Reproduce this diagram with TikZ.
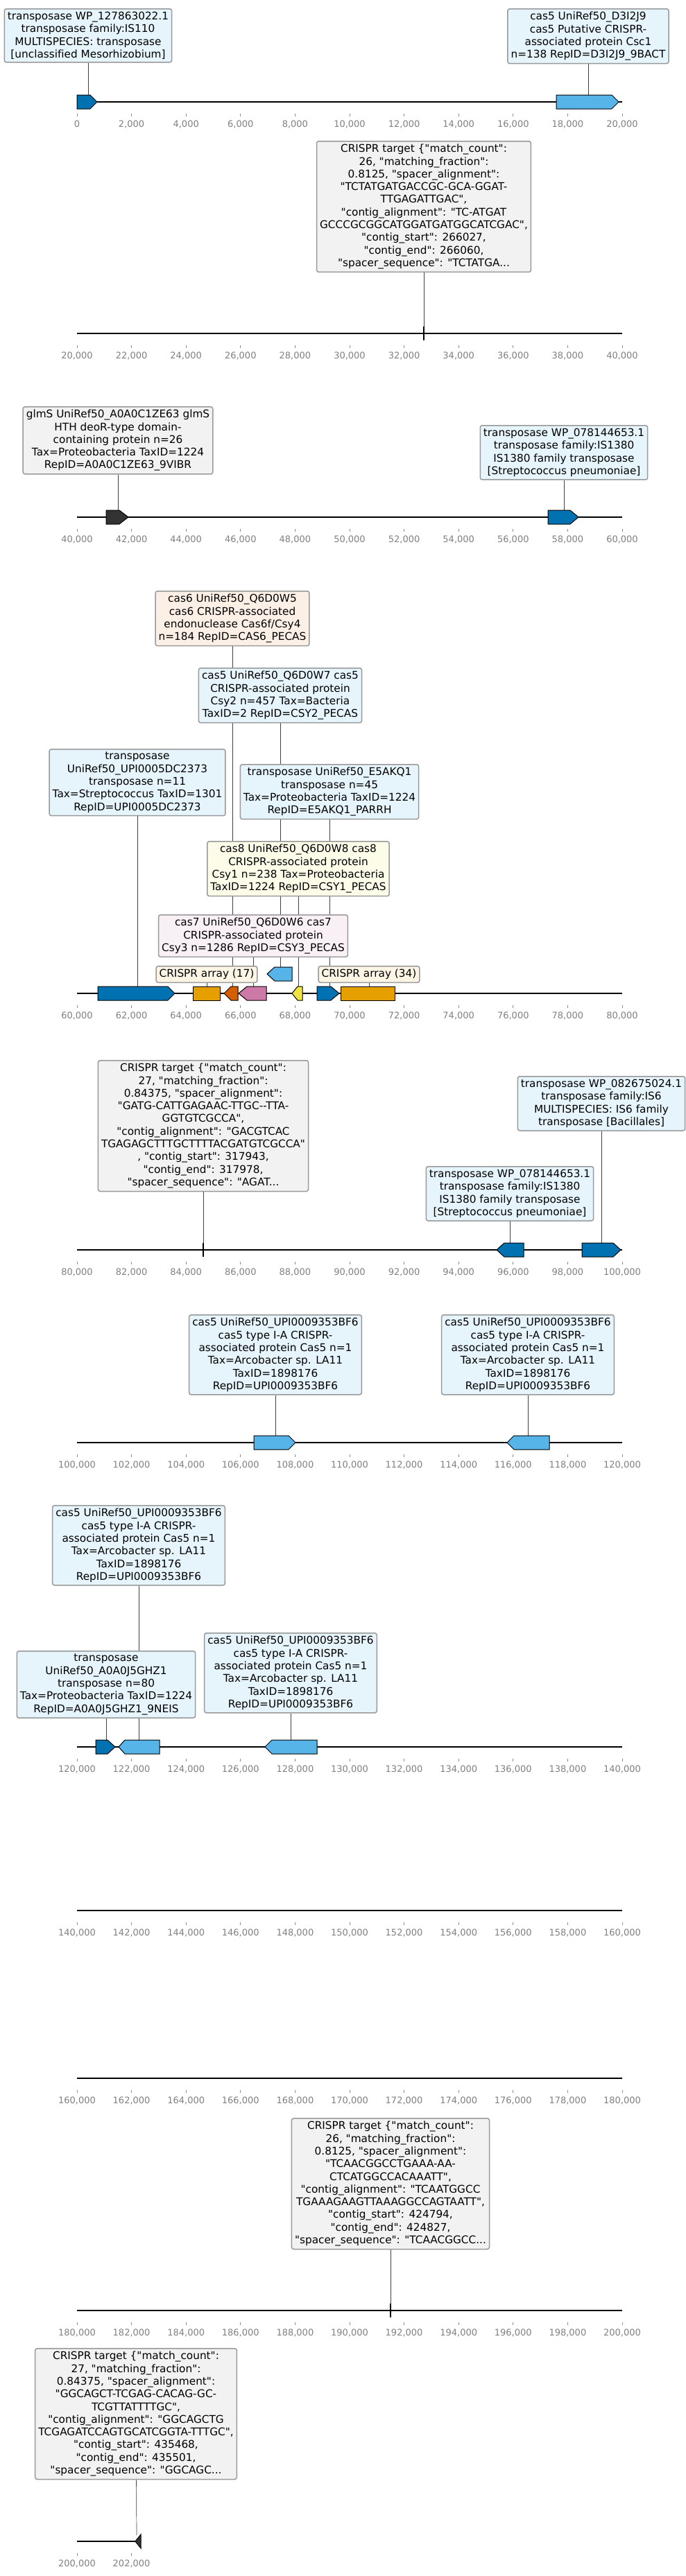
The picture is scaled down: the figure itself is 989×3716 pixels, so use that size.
\documentclass[tikz,border=0pt]{standalone}
\usepackage{fontspec}
\setmainfont{DejaVu Sans}[Ligatures={TeXOff,NoCommon}]
\usetikzlibrary{backgrounds}
\definecolor{dblue}{HTML}{0072B2}
\definecolor{lblue}{HTML}{56B4E9}
\definecolor{orng}{HTML}{E69F00}
\definecolor{verm}{HTML}{D55E00}
\definecolor{rpink}{HTML}{CC79A7}
\definecolor{yell}{HTML}{F0E442}
\definecolor{dgray}{HTML}{333333}
\definecolor{bblue}{HTML}{E6F4FC}
\definecolor{bgray}{HTML}{F2F2F2}
\definecolor{borng}{HTML}{FCF0E6}
\definecolor{byell}{HTML}{FDFCE9}
\definecolor{bpink}{HTML}{F9F0F5}
\definecolor{bbeige}{HTML}{FCF5E6}
\begin{document}
\begin{tikzpicture}[x=0.5pt,y=-0.5pt]
    \tikzstyle{lbl} = [draw=black!40,line width=0.75pt,rounded corners=1.5pt,align=center,anchor=north,inner xsep=2.3pt,inner ysep=2.2pt,font=\fontsize{7.65}{9.15}\selectfont]
    \tikzstyle{feat} = [draw=black,line width=0.5pt]
    \tikzstyle{conn} = [draw=black!75,line width=0.35pt]
    \tikzstyle{axis} = [line width=1.3pt]
    \tikzstyle{tck} = [black!45,line width=0.4pt]
    \tikzstyle{num} = [text=black!50,font=\fontsize{6.5}{7.8}\selectfont,inner sep=0pt]
    \useasboundingbox (0,0) rectangle (989,3716);

    \foreach \r/\yy in {0/147,1/481,2/746,3/1433,4/1803,5/2081,6/2520,7/2756,8/2998,9/3333} {
      \draw [axis] (111,\yy) -- (897,\yy);
      \foreach \k in {0,...,10} {
        \pgfmathtruncatemacro\v{20*\r+2*\k}
        \draw [tck] (111+78.6*\k,\yy+17) -- (111+78.6*\k,\yy+21);
        \node [num] (n\r-\k) at (111+78.6*\k,\yy+32) {\ifnum\v=0 0\else\v,000\fi};
      }
    }
    \draw [axis] (111,3666) -- (200,3666);
    \foreach \k in {0,1} {
      \pgfmathtruncatemacro\v{200+2*\k}
      \draw [tck] (111+78.6*\k,3683) -- (111+78.6*\k,3687);
      \node [num] (n10-\k) at (111+78.6*\k,3698) {\v,000};
    }

    \draw [feat,fill=dblue] (111,137) -- (130,137) -- (140,147) -- (130,157) -- (111,157) -- cycle;
    \draw [feat,fill=lblue] (802,137) -- (882,137) -- (892,147) -- (882,157) -- (802,157) -- cycle;
    \draw [feat,line width=0.7pt] (611,471) -- (611,491);
    \draw [feat,fill=dgray] (153,736) -- (172,736) -- (185,746) -- (172,756) -- (153,756) -- cycle;
    \draw [feat,fill=dblue] (790,736) -- (822,736) -- (834,746) -- (822,756) -- (790,756) -- cycle;
    \draw [feat,fill=dblue] (141,1423) -- (242,1423) -- (252,1433) -- (242,1443) -- (141,1443) -- cycle;
    \draw [feat,fill=orng] (278,1423) rectangle (317,1443);
    \draw [feat,fill=verm] (343,1423) -- (333,1423) -- (323,1433) -- (333,1443) -- (343,1443) -- cycle;
    \draw [feat,fill=rpink] (384,1423) -- (356,1423) -- (344,1433) -- (356,1443) -- (384,1443) -- cycle;
    \draw [feat,fill=lblue] (421,1395) -- (396,1395) -- (385,1405) -- (396,1415) -- (421,1415) -- cycle;
    \draw [feat,fill=yell] (436,1423) -- (429,1423) -- (421,1433) -- (429,1443) -- (436,1443) -- cycle;
    \draw [feat,fill=dblue] (457,1423) -- (477,1423) -- (489,1433) -- (477,1443) -- (457,1443) -- cycle;
    \draw [feat,fill=orng] (491,1423) rectangle (569,1443);
    \draw [feat,line width=0.7pt] (293,1793) -- (293,1813);
    \draw [feat,fill=dblue] (755,1793) -- (727,1793) -- (716,1803) -- (727,1813) -- (755,1813) -- cycle;
    \draw [feat,fill=dblue] (839,1793) -- (884,1793) -- (895,1803) -- (884,1813) -- (839,1813) -- cycle;
    \draw [feat,fill=lblue] (366,2071) -- (416,2071) -- (426,2081) -- (416,2091) -- (366,2091) -- cycle;
    \draw [feat,fill=lblue] (792,2071) -- (741,2071) -- (731,2081) -- (741,2091) -- (792,2091) -- cycle;
    \draw [feat,fill=dblue] (138,2510) -- (155,2510) -- (166,2520) -- (155,2530) -- (138,2530) -- cycle;
    \draw [feat,fill=lblue] (230,2510) -- (180,2510) -- (171,2520) -- (180,2530) -- (230,2530) -- cycle;
    \draw [feat,fill=lblue] (457,2510) -- (392,2510) -- (382,2520) -- (392,2530) -- (457,2530) -- cycle;
    \draw [feat,line width=0.7pt] (563,3323) -- (563,3343);
    \draw [feat,fill=dgray] (203,3656) -- (195,3666) -- (203,3676) -- cycle;

    \coordinate (tr1f) at (127,137);
    \coordinate (cs5af) at (848,137);
    \coordinate (tgt1f) at (611,471);
    \coordinate (glmsf) at (170,736);
    \coordinate (tr2f) at (813,736);
    \coordinate (cas6f) at (335,1423);
    \coordinate (cas5f) at (404,1395);
    \coordinate (trUf) at (198,1423);
    \coordinate (trEf) at (475,1423);
    \coordinate (cas8f) at (430,1423);
    \coordinate (cas7f) at (365,1423);
    \coordinate (arr17f) at (298,1423);
    \coordinate (arr34f) at (532,1423);
    \coordinate (tgt2f) at (293,1793);
    \coordinate (tr3f) at (735,1793);
    \coordinate (tr4f) at (867,1793);
    \coordinate (cs5bf) at (397,2071);
    \coordinate (cs5cf) at (761,2071);
    \coordinate (cs5df) at (200,2510);
    \coordinate (trAf) at (153,2510);
    \coordinate (cs5ef) at (419,2510);
    \coordinate (tgt3f) at (563,3323);
    \coordinate (tgt4f) at (197,3657);

    \node [lbl,fill=bblue] (tr1) at (127,12) {transposase WP\_127863022.1\\transposase family:IS110\\MULTISPECIES: transposase\\{[}unclassified Mesorhizobium{]}};
    \node [lbl,fill=bblue] (cs5a) at (848,12) {cas5 UniRef50\_D3I2J9\\cas5 Putative CRISPR-\\associated protein Csc1\\n=138 RepID=D3I2J9\_9BACT};
    \node [lbl,fill=bgray] (tgt1) at (611,203) {CRISPR target \{"match\_count":\\26, "matching\_fraction":\\0.8125, "spacer\_alignment":\\"TCTATGATGACCGC-GCA-GGAT-\\TTGAGATTGAC",\\"contig\_alignment": "TC-ATGAT\\GCCCGCGGCATGGATGATGGCATCGAC",\\"contig\_start": 266027,\\"contig\_end": 266060,\\"spacer\_sequence": "TCTATGA...};
    \node [lbl,fill=bgray] (glms) at (170,586) {glmS UniRef50\_A0A0C1ZE63 glmS\\HTH deoR-type domain-\\containing protein n=26\\Tax=Proteobacteria TaxID=1224\\RepID=A0A0C1ZE63\_9VIBR};
    \node [lbl,fill=bblue] (tr2) at (813,613) {transposase WP\_078144653.1\\transposase family:IS1380\\IS1380 family transposase\\{[}Streptococcus pneumoniae{]}};
    \node [lbl,fill=borng] (cas6) at (335,852) {cas6 UniRef50\_Q6D0W5\\cas6 CRISPR-associated\\endonuclease Cas6f/Csy4\\n=184 RepID=CAS6\_PECAS};
    \node [lbl,fill=bblue] (cas5) at (404,963) {cas5 UniRef50\_Q6D0W7 cas5\\CRISPR-associated protein\\Csy2 n=457 Tax=Bacteria\\TaxID=2 RepID=CSY2\_PECAS};
    \node [lbl,fill=bblue] (trU) at (198,1080) {transposase\\UniRef50\_UPI0005DC2373\\transposase n=11\\Tax=Streptococcus TaxID=1301\\RepID=UPI0005DC2373};
    \node [lbl,fill=bblue] (trE) at (475,1102) {transposase UniRef50\_E5AKQ1\\transposase n=45\\Tax=Proteobacteria TaxID=1224\\RepID=E5AKQ1\_PARRH};
    \node [lbl,fill=byell] (cas8) at (430,1213) {cas8 UniRef50\_Q6D0W8 cas8\\CRISPR-associated protein\\Csy1 n=238 Tax=Proteobacteria\\TaxID=1224 RepID=CSY1\_PECAS};
    \node [lbl,fill=bpink] (cas7) at (365,1319) {cas7 UniRef50\_Q6D0W6 cas7\\CRISPR-associated protein\\Csy3 n=1286 RepID=CSY3\_PECAS};
    \node [lbl,fill=bbeige] (arr17) at (298,1393) {CRISPR array (17)};
    \node [lbl,fill=bbeige] (arr34) at (532,1393) {CRISPR array (34)};
    \node [lbl,fill=bgray] (tgt2) at (293,1529) {CRISPR target \{"match\_count":\\27, "matching\_fraction":\\0.84375, "spacer\_alignment":\\"GATG-CATTGAGAAC-TTGC--TTA-\\GGTGTCGCCA",\\"contig\_alignment": "GACGTCAC\\TGAGAGCTTTGCTTTTACGATGTCGCCA"\\, "contig\_start": 317943,\\"contig\_end": 317978,\\"spacer\_sequence": "AGAT...};
    \node [lbl,fill=bblue] (tr3) at (735,1682) {transposase WP\_078144653.1\\transposase family:IS1380\\IS1380 family transposase\\{[}Streptococcus pneumoniae{]}};
    \node [lbl,fill=bblue] (tr4) at (867,1552) {transposase WP\_082675024.1\\transposase family:IS6\\MULTISPECIES: IS6 family\\transposase {[}Bacillales{]}};
    \node [lbl,fill=bblue] (cs5b) at (397,1896) {cas5 UniRef50\_UPI0009353BF6\\cas5 type I-A CRISPR-\\associated protein Cas5 n=1\\Tax=Arcobacter sp. LA11\\TaxID=1898176\\RepID=UPI0009353BF6};
    \node [lbl,fill=bblue] (cs5c) at (761,1896) {cas5 UniRef50\_UPI0009353BF6\\cas5 type I-A CRISPR-\\associated protein Cas5 n=1\\Tax=Arcobacter sp. LA11\\TaxID=1898176\\RepID=UPI0009353BF6};
    \node [lbl,fill=bblue] (cs5d) at (200,2171) {cas5 UniRef50\_UPI0009353BF6\\cas5 type I-A CRISPR-\\associated protein Cas5 n=1\\Tax=Arcobacter sp. LA11\\TaxID=1898176\\RepID=UPI0009353BF6};
    \node [lbl,fill=bblue] (trA) at (153,2381) {transposase\\UniRef50\_A0A0J5GHZ1\\transposase n=80\\Tax=Proteobacteria TaxID=1224\\RepID=A0A0J5GHZ1\_9NEIS};
    \node [lbl,fill=bblue] (cs5e) at (419,2355) {cas5 UniRef50\_UPI0009353BF6\\cas5 type I-A CRISPR-\\associated protein Cas5 n=1\\Tax=Arcobacter sp. LA11\\TaxID=1898176\\RepID=UPI0009353BF6};
    \node [lbl,fill=bgray] (tgt3) at (563,3055) {CRISPR target \{"match\_count":\\26, "matching\_fraction":\\0.8125, "spacer\_alignment":\\"TCAACGGCCTGAAA-AA-\\CTCATGGCCACAAATT",\\"contig\_alignment": "TCAATGGCC\\TGAAAGAAGTTAAAGGCCAGTAATT",\\"contig\_start": 424794,\\"contig\_end": 424827,\\"spacer\_sequence": "TCAACGGCC...};
    \node [lbl,fill=bgray] (tgt4) at (196,3387) {CRISPR target \{"match\_count":\\27, "matching\_fraction":\\0.84375, "spacer\_alignment":\\"GGCAGCT-TCGAG-CACAG-GC-\\TCGTTATTTTGC",\\"contig\_alignment": "GGCAGCTG\\TCGAGATCCAGTGCATCGGTA-TTTGC",\\"contig\_start": 435468,\\"contig\_end": 435501,\\"spacer\_sequence": "GGCAGC...};

    \begin{pgfonlayer}{background}
    \fill [white] (0,0) rectangle (989,3716);
    \draw [conn] (tr1) -- (tr1f);
    \draw [conn] (cs5a) -- (cs5af);
    \draw [conn] (tgt1) -- (tgt1f);
    \draw [conn] (glms) -- (glmsf);
    \draw [conn] (tr2) -- (tr2f);
    \draw [conn] (cas6) -- (cas6f);
    \draw [conn] (cas5) -- (cas5f);
    \draw [conn] (trU) -- (trUf);
    \draw [conn] (trE) -- (trEf);
    \draw [conn] (cas8) -- (cas8f);
    \draw [conn] (cas7) -- (cas7f);
    \draw [conn] (arr17) -- (arr17f);
    \draw [conn] (arr34) -- (arr34f);
    \draw [conn] (tgt2) -- (tgt2f);
    \draw [conn] (tr3) -- (tr3f);
    \draw [conn] (tr4) -- (tr4f);
    \draw [conn] (cs5b) -- (cs5bf);
    \draw [conn] (cs5c) -- (cs5cf);
    \draw [conn] (cs5d) -- (cs5df);
    \draw [conn] (trA) -- (trAf);
    \draw [conn] (cs5e) -- (cs5ef);
    \draw [conn] (tgt3) -- (tgt3f);
    \draw [conn] (tgt4) -- (tgt4f);
    \end{pgfonlayer}
\end{tikzpicture}
\end{document}
